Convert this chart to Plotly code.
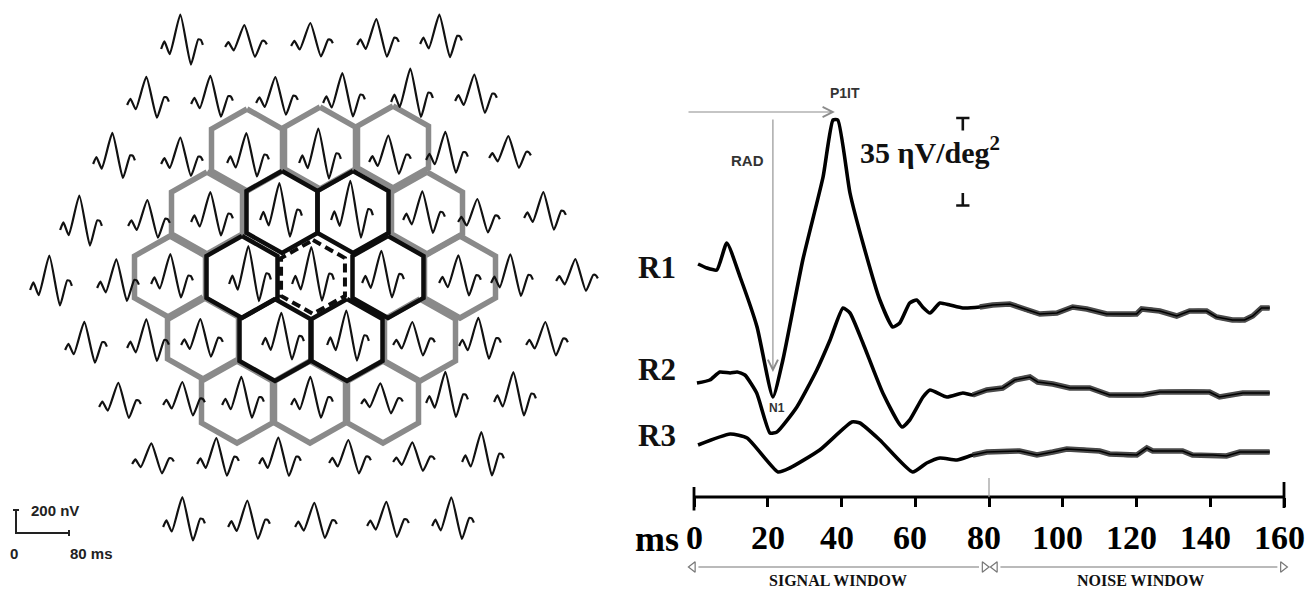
import plotly.graph_objects as go

# Canvas: the page is 1315x600; the browser's default 8px body margin frames the figure.
PAGE_W, PAGE_H = 1315, 600
OFF = 8
W, H = PAGE_W - 2 * OFF, PAGE_H - 2 * OFF

# ======================= LEFT PANEL DATA (mfERG trace array) =======================
# Shared waveform template: time (ms) and normalised amplitude
tmpl_ms = [0, 5, 13, 29, 45, 56, 60, 63]
tmpl_v = [0.0, 0.22, -0.15, 1.0, -0.45, 0.28, 0.26, 0.12]

# per-row trace centres (px) and baselines (px)
trace_cx = [
    [182, 246, 312, 378, 441],
    [148, 212, 277, 344, 412, 476],
    [114, 182, 248, 320, 390, 447, 510],
    [81, 149, 212, 281, 352, 424, 479, 545],
    [51, 118, 172, 250, 313, 383, 460, 512, 577],
    [86, 148, 202, 283, 348, 414, 480, 547],
    [120, 184, 243, 312, 382, 447, 515],
    [153, 218, 280, 350, 414, 483],
    [184, 249, 316, 388, 453],
]
trace_by = [
    [49, 47, 46, 45, 44],
    [105, 104, 103, 103, 102, 101],
    [164, 164, 163, 163, 162, 160, 158],
    [230, 226, 222, 220, 220, 220, 222, 218],
    [290, 288, 284, 284, 284, 283, 283, 283, 281],
    [350, 348, 345, 345, 345, 345, 346, 345],
    [407, 405, 405, 405, 404, 403, 402],
    [464, 464, 464, 463, 462, 462],
    [527, 527, 527, 526, 526],
]
# P1 amplitudes (nV) of each trace
trace_amp_nv = [
    [300, 190, 200, 225, 255],
    [245, 245, 225, 260, 290, 230],
    [270, 230, 260, 300, 230, 245, 190],
    [300, 225, 260, 320, 340, 250, 200, 225],
    [300, 250, 260, 330, 320, 280, 240, 250, 190],
    [245, 250, 225, 280, 300, 200, 245, 200],
    [210, 200, 245, 245, 180, 270, 260],
    [180, 225, 230, 200, 170, 260],
    [260, 230, 210, 210, 250],
]

# hexagon centres (px)
ring2_x = [247, 320, 393, 207, 427, 170, 460, 203, 420, 237, 310, 383]
ring2_y = [150, 148, 147, 213, 213, 277, 277, 338, 340, 402, 402, 402]
ring1_x = [282, 353, 242, 388, 275, 347]
ring1_y = [212, 212, 277, 277, 340, 340]
centre_x = [313]
centre_y = [277]

# scale bar
scale_ms = 80
scale_nv = 200
bar_px_ms = 53 / 80      # px per ms in the array
bar_px_nv = 23 / 200     # px per nV in the array

# ======================= RIGHT PANEL DATA (ring averages) =======================
r1_t = [1.1, 3.5, 6.2, 8.9, 12.5, 17.1, 21.4, 24.1, 29.5, 35.0, 37.7, 39.0, 42.3, 45.8, 50.4,
        53.9, 55.8, 58.5, 60.4, 62.0, 64.0, 66.7, 69.4, 72.9, 77.5, 81.0, 85.6, 90.2, 93.8, 98.4,
        102.7, 106.5, 111.9, 120.0, 121.4, 126.3, 130.9, 134.4, 139.0, 141.7, 146.0, 149.3, 151.5, 153.9, 156.1]
r1_v = [1.6, 0.0, -0.8, 10.0, -3.6, -23.6, -51.6, -36.8, 3.2, 36.4, 59.2, 59.2, 30.0, 10.0, -12.8,
        -23.6, -22.0, -14.0, -12.8, -15.6, -18.0, -14.0, -14.8, -16.0, -15.6, -14.8, -14.4, -16.8, -18.4, -18.0,
        -15.6, -16.4, -18.4, -18.4, -16.4, -17.2, -19.2, -17.2, -17.2, -19.6, -20.8, -20.8, -19.2, -16.0, -16.0]
r2_t = [0.8, 4.3, 7.0, 9.8, 11.7, 13.8, 17.0, 20.6, 22.5, 27.9, 33.3, 36.9, 40.4, 42.3, 45.8,
        51.2, 56.4, 58.5, 62.1, 64.0, 68.6, 72.9, 75.6, 79.4, 83.7, 87.0, 91.1, 93.2, 97.3, 101.9,
        107.3, 112.7, 121.7, 126.3, 139.8, 142.5, 148.8, 156.1]
r2_v = [0.0, 1.2, 4.4, 4.0, 4.4, 3.2, -4.0, -20.0, -19.6, -9.6, 5.2, 17.2, 30.0, 28.0, 16.0,
        -4.0, -17.6, -14.8, -5.6, -2.8, -5.6, -4.0, -4.8, -2.8, -2.0, 1.2, 2.4, 0.4, -0.4, -2.0,
        -2.0, -4.8, -4.8, -3.6, -3.6, -5.6, -4.0, -4.0]
r3_t = [1.1, 9.8, 14.4, 22.8, 26.0, 34.1, 42.8, 45.0, 50.4, 59.3, 63.1, 66.7, 71.3, 75.6, 79.4,
        88.3, 93.0, 97.3, 101.1, 110.0, 112.7, 120.1, 122.8, 124.4, 132.5, 135.2, 140.7, 144.4, 148.0, 156.1]
r3_v = [0.0, 4.4, 2.8, -10.8, -9.2, -2.0, 9.2, 8.8, 2.0, -10.8, -7.2, -5.2, -6.0, -4.0, -2.8,
        -2.4, -4.0, -2.8, -1.6, -2.4, -3.6, -4.0, -1.2, -2.4, -2.4, -4.0, -4.0, -4.4, -2.8, -2.8]
r_names = ["R1", "R2", "R3"]
r_offsets = [0.0, -46.0, -70.8]
tick_ms = [0, 20, 40, 60, 80, 100, 120, 140, 160]
tick_labels = [str(v) for v in tick_ms]
amp_scale = 35          # nV/deg^2 calibration bar
amp_scale_base = 25.0
signal_window = [0, 80]
noise_window = [80, 160]

# ======================= FIGURE =======================
fig = go.Figure()
SERIF = "Liberation Serif"
SANS = "Liberation Sans"

# ---- hexagons ----
HEX_DX = [0, 35.5, 35.5, 0, -35.5, -35.5, 0]
HEX_DY = [-41, -21, 21, 41, 21, -21, -41]


def hex_path(xs, ys, s=1.0):
    px, py = [], []
    for cx, cy in zip(xs, ys):
        px += [cx + dx * s for dx in HEX_DX] + [None]
        py += [cy + dy * s for dy in HEX_DY] + [None]
    return px, py


gx, gy = hex_path(ring2_x, ring2_y)
fig.add_trace(go.Scatter(x=gx, y=gy, mode="lines", line=dict(color="#8a8a8a", width=5.5),
                         hoverinfo="skip"))
bx, by_ = hex_path(ring1_x, ring1_y)
fig.add_trace(go.Scatter(x=bx, y=by_, mode="lines", line=dict(color="#0d0d0d", width=4.5),
                         hoverinfo="skip"))
cxh, cyh = hex_path(centre_x, centre_y, 0.9)
fig.add_trace(go.Scatter(x=cxh, y=cyh, mode="lines", fill="toself", fillcolor="white",
                         line=dict(color="#0d0d0d", width=4, dash="9px,5px"), hoverinfo="skip"))

# ---- array of local responses ----
lx, ly = [], []
for cxs, bys, amps in zip(trace_cx, trace_by, trace_amp_nv):
    for cx, b, a in zip(cxs, bys, amps):
        x0 = cx - tmpl_ms[-1] * bar_px_ms / 2
        for t, v in zip(tmpl_ms, tmpl_v):
            lx.append(x0 + t * bar_px_ms)
            ly.append(b - v * a * bar_px_nv)
        lx.append(None)
        ly.append(None)
fig.add_trace(go.Scatter(x=lx, y=ly, mode="lines",
                         line=dict(color="#111", width=2.2, shape="spline", smoothing=0.5),
                         hoverinfo="skip"))

# ---- scale bar ----
sb_x0, sb_y0 = 16, 533
fig.add_trace(go.Scatter(
    x=[sb_x0 - 3, sb_x0 + 3, None, sb_x0, sb_x0, sb_x0 + scale_ms * bar_px_ms, None,
       sb_x0 + scale_ms * bar_px_ms, sb_x0 + scale_ms * bar_px_ms],
    y=[sb_y0 - scale_nv * bar_px_nv, sb_y0 - scale_nv * bar_px_nv, None,
       sb_y0 - scale_nv * bar_px_nv, sb_y0, sb_y0, None, sb_y0 - 3, sb_y0 + 3],
    mode="lines", line=dict(color="#222", width=2), hoverinfo="skip"))

# ---- right panel: ring responses ----
for t, v, off in zip([r1_t, r2_t, r3_t], [r1_v, r2_v, r3_v], r_offsets):
    yy = [val + off for val in v]
    fig.add_trace(go.Scatter(x=t, y=yy, xaxis="x2", yaxis="y2", mode="lines",
                             line=dict(color="#000", width=3.6, shape="spline", smoothing=0.5),
                             hoverinfo="skip"))
    nt = [a for a in t if a >= 75]
    ny = [val for a, val in zip(t, yy) if a >= 75]
    fig.add_trace(go.Scatter(x=nt, y=ny, xaxis="x2", yaxis="y2", mode="lines",
                             line=dict(color="#4a4a4a", width=5.5), hoverinfo="skip"))
    fig.add_trace(go.Scatter(x=nt, y=ny, xaxis="x2", yaxis="y2", mode="lines",
                             line=dict(color="#000", width=1.6), hoverinfo="skip"))

# time axis line and end ticks
AX_Y = -91.6
fig.add_trace(go.Scatter(x=[tick_ms[0], tick_ms[-1]], y=[AX_Y, AX_Y], xaxis="x2", yaxis="y2",
                         mode="lines", line=dict(color="#000", width=2.8), hoverinfo="skip"))
fig.add_trace(go.Scatter(x=[tick_ms[0], tick_ms[0], None, tick_ms[-1], tick_ms[-1]],
                         y=[-87.6, -97.0, None, -85.6, -96.0], xaxis="x2", yaxis="y2",
                         mode="lines", line=dict(color="#000", width=2.8), hoverinfo="skip"))
fig.add_trace(go.Scatter(x=[signal_window[1], signal_window[1]], y=[-84.0, AX_Y], xaxis="x2", yaxis="y2",
                         mode="lines", line=dict(color="#999", width=1.2), hoverinfo="skip"))

# calibration bar caps (T and inverted T)
fig.add_trace(go.Scatter(
    x=[71.1, 74.7, None, 72.9, 72.9, None, 71.1, 74.7, None, 72.9, 72.9],
    y=[amp_scale_base + amp_scale, amp_scale_base + amp_scale, None,
       amp_scale_base + amp_scale, amp_scale_base + amp_scale - 5, None,
       amp_scale_base, amp_scale_base, None, amp_scale_base, amp_scale_base + 5],
    xaxis="x2", yaxis="y2", mode="lines", line=dict(color="#111", width=2.6), hoverinfo="skip"))

# signal / noise window arrows
WIN_Y = -119.6
for (a, b) in [(signal_window[0] - 0.3, signal_window[1] - 1.2), (noise_window[0] + 1.6, noise_window[1] - 0.3)]:
    fig.add_trace(go.Scatter(x=[a + 1.5, b - 1.5], y=[WIN_Y, WIN_Y], xaxis="x2", yaxis="y2",
                             mode="lines", line=dict(color="#777", width=1.2), hoverinfo="skip"))
    fig.add_trace(go.Scatter(x=[a, b], y=[WIN_Y, WIN_Y], xaxis="x2", yaxis="y2", mode="markers",
                             marker=dict(symbol=["triangle-left-open", "triangle-right-open"], size=9,
                                         color="#777", line=dict(width=1.2, color="#777")),
                             cliponaxis=False, hoverinfo="skip"))

# ---- annotations ----
ann = []
# scale bar labels
ann.append(dict(x=29, y=510, xref="x", yref="y", text="200 nV", showarrow=False, xanchor="left",
                font=dict(family=SANS, size=15, color="#222", weight="bold")))
ann.append(dict(x=14, y=553, xref="x", yref="y", text="0", showarrow=False,
                font=dict(family=SANS, size=15, color="#222", weight="bold")))
ann.append(dict(x=68, y=553, xref="x", yref="y", text="80 ms", showarrow=False, xanchor="left",
                font=dict(family=SANS, size=15, color="#222", weight="bold")))
# time-axis tick labels (placed on the ms axis)
for v, lab in zip(tick_ms, tick_labels):
    ann.append(dict(x=v, y=-107.6, xref="x2", yref="y2", text=lab, showarrow=False,
                    xshift=0 if v < 30 else -5,
                    font=dict(family=SERIF, size=34, color="#000", weight="bold")))
# ring labels
for name, ty in zip(r_names, [0.4, -40.4, -66.8]):
    ann.append(dict(x=-10, y=ty, xref="x2", yref="y2", text=name, showarrow=False,
                    font=dict(family=SERIF, size=31, color="#111", weight="bold")))
ann.append(dict(x=-9.9, y=-108.3, xref="x2", yref="y2", text="ms", showarrow=False,
                font=dict(family=SERIF, size=36, color="#000", weight="bold")))
ann.append(dict(x=39, y=-125.0, xref="x2", yref="y2", text="SIGNAL WINDOW", showarrow=False,
                font=dict(family=SERIF, size=16, color="#111", weight="bold")))
ann.append(dict(x=121, y=-124.8, xref="x2", yref="y2", text="NOISE WINDOW", showarrow=False,
                font=dict(family=SERIF, size=16, color="#111", weight="bold")))
# P1 implicit time and response amplitude arrows
ann.append(dict(x=38.2, y=62.4, ax=-1.9, ay=62.4, xref="x2", yref="y2", axref="x2", ayref="y2",
                text="", showarrow=True, arrowhead=5, arrowsize=1.8, arrowwidth=1.1, arrowcolor="#8c8c8c"))
ann.append(dict(x=21.4, y=-41.6, ax=21.4, ay=60.0, xref="x2", yref="y2", axref="x2", ayref="y2",
                text="", showarrow=True, arrowhead=5, arrowsize=1.8, arrowwidth=1.1, arrowcolor="#8c8c8c"))
ann.append(dict(x=40.9, y=70.0, xref="x2", yref="y2", text="P1IT", showarrow=False,
                font=dict(family=SANS, size=14, color="#333", weight="bold")))
ann.append(dict(x=14.6, y=43.2, xref="x2", yref="y2", text="RAD", showarrow=False,
                font=dict(family=SANS, size=15, color="#333", weight="bold")))
ann.append(dict(x=22.5, y=-56.0, xref="x2", yref="y2", text="N1", showarrow=False,
                font=dict(family=SANS, size=12, color="#333", weight="bold")))
# calibration label
ann.append(dict(x=64.0, y=amp_scale_base + amp_scale * 0.63, xref="x2", yref="y2",
                text=f"{amp_scale} ηV/deg<sup>2</sup>", showarrow=False,
                font=dict(family=SERIF, size=30, color="#111", weight="bold")))

# right-panel time axis: 3.6875 px per ms, 0 ms at page x = 694
X2_MIN, X2_MAX = -14, 163
PX_PER_MS = 3.6875
d0 = (694 + X2_MIN * PX_PER_MS - OFF) / W
d1 = (694 + X2_MAX * PX_PER_MS - OFF) / W
# right-panel amplitude axis: 2.5 px per unit, value = 107.2 - 0.4 * page_y
Y2_TOP = 107.2 - 0.4 * OFF
Y2_BOT = 107.2 - 0.4 * (PAGE_H - OFF)

fig.update_layout(
    width=W, height=H, autosize=False, margin=dict(l=0, r=0, t=0, b=0, pad=0),
    paper_bgcolor="white", plot_bgcolor="rgba(0,0,0,0)", showlegend=False,
    xaxis=dict(domain=[0, 1], range=[OFF, PAGE_W - OFF], visible=False, fixedrange=True),
    yaxis=dict(domain=[0, 1], range=[PAGE_H - OFF, OFF], visible=False, fixedrange=True),
    xaxis2=dict(domain=[d0, d1], range=[X2_MIN, X2_MAX], anchor="free",
                position=1 - (497 - OFF) / H,
                showgrid=False, zeroline=False, showline=False, ticks="outside", ticklen=9,
                tickwidth=2.5, tickcolor="#000", tickvals=tick_ms, showticklabels=False,
                fixedrange=True),
    yaxis2=dict(domain=[0, 1], range=[Y2_BOT, Y2_TOP], anchor="x2", visible=False,
                fixedrange=True),
    annotations=ann,
)

fig.write_html("out.html", config={"displayModeBar": False, "responsive": False})
